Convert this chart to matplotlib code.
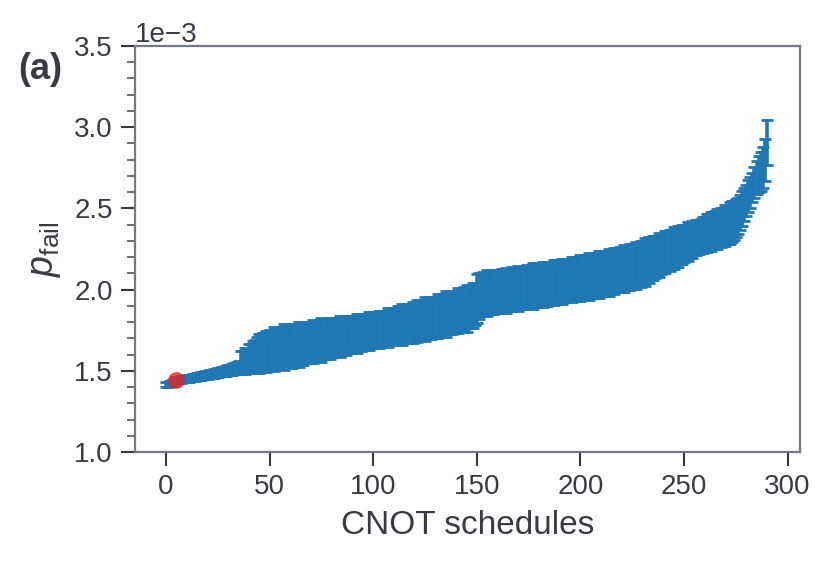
import numpy as np
import matplotlib
matplotlib.use("Agg")
import matplotlib.pyplot as plt
from matplotlib.ticker import MultipleLocator

# Sorted failure probabilities (units of 1e-3) and their error bars
p_fail_mean = [
    1.414, 1.418, 1.421, 1.425, 1.430, 1.443, 1.444, 1.446, 1.448, 1.450,
    1.452, 1.454, 1.456, 1.458, 1.461, 1.463, 1.465, 1.467, 1.470, 1.472,
    1.475, 1.478, 1.480, 1.483, 1.486, 1.489, 1.492, 1.494, 1.497, 1.500,
    1.503, 1.506, 1.509, 1.512, 1.516, 1.520, 1.550, 1.556, 1.562, 1.568,
    1.574, 1.580, 1.586, 1.592, 1.598, 1.604, 1.610, 1.615, 1.620, 1.624,
    1.627, 1.630, 1.633, 1.636, 1.639, 1.642, 1.644, 1.646, 1.648, 1.650,
    1.653, 1.655, 1.658, 1.660, 1.663, 1.665, 1.668, 1.670, 1.672, 1.675,
    1.677, 1.680, 1.682, 1.684, 1.687, 1.689, 1.692, 1.694, 1.696, 1.699,
    1.701, 1.703, 1.706, 1.708, 1.710, 1.713, 1.715, 1.717, 1.720, 1.722,
    1.724, 1.727, 1.729, 1.731, 1.734, 1.736, 1.739, 1.741, 1.744, 1.746,
    1.749, 1.751, 1.754, 1.756, 1.759, 1.761, 1.764, 1.766, 1.769, 1.771,
    1.774, 1.777, 1.779, 1.782, 1.785, 1.787, 1.790, 1.793, 1.796, 1.799,
    1.802, 1.805, 1.808, 1.811, 1.814, 1.817, 1.820, 1.823, 1.826, 1.829,
    1.832, 1.835, 1.838, 1.842, 1.845, 1.849, 1.852, 1.856, 1.859, 1.863,
    1.866, 1.870, 1.874, 1.878, 1.882, 1.886, 1.891, 1.896, 1.902, 1.910,
    1.945, 1.962, 1.968, 1.972, 1.975, 1.978, 1.980, 1.982, 1.984, 1.986,
    1.988, 1.990, 1.992, 1.994, 1.996, 1.998, 2.000, 2.002, 2.004, 2.006,
    2.008, 2.010, 2.012, 2.014, 2.016, 2.018, 2.020, 2.022, 2.024, 2.026,
    2.028, 2.030, 2.032, 2.034, 2.036, 2.038, 2.041, 2.043, 2.045, 2.047,
    2.049, 2.051, 2.053, 2.056, 2.058, 2.060, 2.062, 2.064, 2.066, 2.069,
    2.071, 2.073, 2.076, 2.078, 2.080, 2.083, 2.085, 2.088, 2.090, 2.093,
    2.096, 2.099, 2.102, 2.105, 2.108, 2.111, 2.114, 2.117, 2.120, 2.123,
    2.126, 2.129, 2.132, 2.136, 2.139, 2.143, 2.146, 2.150, 2.154, 2.158,
    2.165, 2.170, 2.176, 2.182, 2.188, 2.194, 2.200, 2.206, 2.212, 2.218,
    2.224, 2.230, 2.236, 2.242, 2.248, 2.254, 2.260, 2.266, 2.272, 2.278,
    2.284, 2.290, 2.296, 2.302, 2.308, 2.314, 2.320, 2.326, 2.332, 2.338,
    2.343, 2.348, 2.353, 2.358, 2.363, 2.368, 2.373, 2.378, 2.384, 2.390,
    2.396, 2.403, 2.410, 2.418, 2.428, 2.440, 2.455, 2.475, 2.500, 2.525,
    2.550, 2.575, 2.600, 2.630, 2.660, 2.690, 2.710, 2.730, 2.750, 2.800,
    2.905,
]

p_fail_err = [
    0.016, 0.016, 0.017, 0.017, 0.018, 0.018, 0.018, 0.019, 0.019, 0.020,
    0.020, 0.020, 0.021, 0.021, 0.022, 0.022, 0.022, 0.023, 0.023, 0.024,
    0.024, 0.025, 0.025, 0.026, 0.026, 0.027, 0.027, 0.028, 0.029, 0.030,
    0.031, 0.032, 0.033, 0.034, 0.036, 0.040, 0.070, 0.065, 0.080, 0.075,
    0.090, 0.085, 0.095, 0.100, 0.110, 0.120, 0.105, 0.115, 0.125, 0.120,
    0.125, 0.110, 0.135, 0.120, 0.105, 0.130, 0.115, 0.140, 0.120, 0.110,
    0.125, 0.135, 0.115, 0.120, 0.140, 0.110, 0.130, 0.120, 0.105, 0.125,
    0.115, 0.130, 0.120, 0.110, 0.125, 0.135, 0.105, 0.120, 0.115, 0.125,
    0.110, 0.120, 0.100, 0.115, 0.125, 0.105, 0.110, 0.120, 0.100, 0.115,
    0.105, 0.110, 0.120, 0.100, 0.115, 0.105, 0.110, 0.100, 0.115, 0.105,
    0.110, 0.100, 0.105, 0.115, 0.100, 0.110, 0.105, 0.120, 0.110, 0.100,
    0.115, 0.105, 0.120, 0.110, 0.125, 0.105, 0.115, 0.120, 0.110, 0.125,
    0.115, 0.130, 0.120, 0.110, 0.125, 0.135, 0.115, 0.120, 0.130, 0.110,
    0.125, 0.135, 0.120, 0.130, 0.115, 0.140, 0.125, 0.120, 0.135, 0.130,
    0.125, 0.140, 0.130, 0.120, 0.135, 0.145, 0.125, 0.135, 0.140, 0.130,
    0.150, 0.140, 0.130, 0.135, 0.125, 0.140, 0.130, 0.120, 0.135, 0.125,
    0.130, 0.120, 0.135, 0.125, 0.140, 0.130, 0.120, 0.135, 0.125, 0.130,
    0.140, 0.125, 0.130, 0.120, 0.135, 0.130, 0.125, 0.140, 0.130, 0.135,
    0.125, 0.130, 0.140, 0.120, 0.135, 0.125, 0.130, 0.140, 0.125, 0.135,
    0.130, 0.140, 0.125, 0.135, 0.120, 0.130, 0.140, 0.125, 0.135, 0.130,
    0.140, 0.125, 0.135, 0.130, 0.145, 0.125, 0.135, 0.140, 0.130, 0.145,
    0.130, 0.140, 0.125, 0.135, 0.145, 0.130, 0.140, 0.125, 0.135, 0.140,
    0.130, 0.145, 0.135, 0.125, 0.140, 0.130, 0.135, 0.145, 0.125, 0.140,
    0.135, 0.145, 0.130, 0.140, 0.125, 0.135, 0.130, 0.120, 0.135, 0.125,
    0.120, 0.130, 0.115, 0.125, 0.120, 0.130, 0.115, 0.125, 0.110, 0.120,
    0.115, 0.110, 0.120, 0.105, 0.115, 0.100, 0.110, 0.105, 0.100, 0.110,
    0.105, 0.115, 0.110, 0.120, 0.105, 0.115, 0.125, 0.110, 0.120, 0.115,
    0.125, 0.120, 0.130, 0.125, 0.120, 0.115, 0.110, 0.105, 0.110, 0.100,
    0.095, 0.100, 0.095, 0.090, 0.095, 0.100, 0.110, 0.120, 0.125, 0.130,
    0.140,
]

# Highlighted schedule
highlight_x = [5]
highlight_y = [1.443]

scale = 1e-3
y = np.array(p_fail_mean) * scale
yerr = np.array(p_fail_err) * scale
x = np.arange(len(y))

text_color = "#3a3a44"
spine_color = "#737a85"

plt.rcParams["font.family"] = ["Liberation Sans", "DejaVu Sans"]
plt.rcParams["mathtext.fontset"] = "custom"
plt.rcParams["mathtext.rm"] = "Liberation Sans"
plt.rcParams["mathtext.it"] = "Liberation Sans:italic"

fig = plt.figure(figsize=(8.3, 5.65), dpi=100)
ax = fig.add_axes([0.1627, 0.2, 0.8012, 0.7186])

ax.errorbar(x, y, yerr=yerr, fmt="none", ecolor="#1f77b4",
            elinewidth=2.6, capsize=4, capthick=2)
ax.plot(np.array(highlight_x), np.array(highlight_y) * scale, "o",
        color="#f02020", alpha=0.75, markersize=11, zorder=5)

ax.set_ylim(1.0e-3, 3.5e-3)
ax.set_xlim(-15, 306)
ax.yaxis.set_major_locator(MultipleLocator(0.5e-3))
ax.yaxis.set_minor_locator(MultipleLocator(0.1e-3))
ax.xaxis.set_major_locator(MultipleLocator(50))
ax.ticklabel_format(axis="y", style="sci", scilimits=(-3, -3), useMathText=False)

for s in ax.spines.values():
    s.set_color(spine_color)
    s.set_linewidth(1.6)

ax.tick_params(axis="both", which="major", direction="out", length=10,
               width=1.5, color="#3a3a3a", labelsize=20, labelcolor=text_color,
               pad=6)
ax.tick_params(axis="y", which="minor", direction="out", length=6,
               width=1.2, color="#555555")
ax.yaxis.get_offset_text().set_fontsize(20)
ax.yaxis.get_offset_text().set_color(text_color)

ax.set_xlabel("CNOT schedules", fontsize=24, color=text_color, labelpad=7)
ax.set_ylabel(r"$p_{\mathrm{fail}}$", fontsize=27, color=text_color, labelpad=8)

fig.text(0.022, 0.86, "(a)", fontsize=26, fontweight="bold", color=text_color)

fig.savefig("out.png", dpi=100)
